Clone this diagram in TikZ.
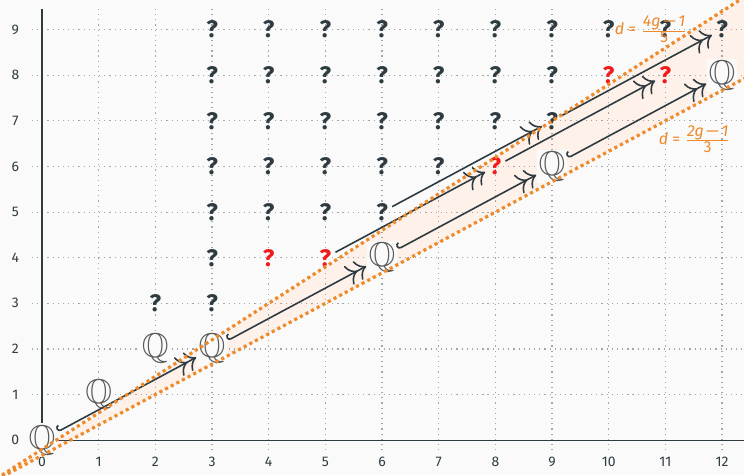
\documentclass[tikz,border=0pt]{standalone}
\usepackage{amssymb}
\usepackage[no-math]{fontspec}
\setmainfont{Fira Sans}
\usetikzlibrary{arrows.meta}

\definecolor{fondo}{HTML}{FAFAFA}
\definecolor{ardesia}{HTML}{2E3B40}
\definecolor{arancio}{HTML}{EE8A2A}
\definecolor{fascia}{HTML}{FDF1EA}
\definecolor{rosso}{HTML}{F21B1B}
\definecolor{grigioQ}{HTML}{5A5A5A}

\tikzset{
  griglia/.style={gray!70, dotted, line width=0.6pt},
  tacca/.style={text=ardesia, font=\scriptsize},
  razionale/.style={inner sep=1pt, fill=fondo, text=grigioQ, font=\LARGE},
  incognita/.style={inner sep=2pt, text=ardesia, font=\large\bfseries},
  falsa/.style={incognita, text=rosso},
  salto/.style={ardesia, line width=0.8pt, {Hooks[right]}-{To[scale=1.5] To[scale=1.5]}},
  salto libero/.style={ardesia, line width=0.8pt, -{To[scale=1.5] To[scale=1.5]}},
  retta/.style={arancio, line width=1.6pt, dash pattern=on 1.6pt off 1.6pt},
  etichetta retta/.style={text=arancio, font=\footnotesize}
}

\begin{document}
\begin{tikzpicture}[x=1cm, y=0.805cm]
    % Sfondo e cornice
    \fill[fondo] (-0.741,-0.768) rectangle (12.388,9.65);
    \useasboundingbox (-0.741,-0.768) rectangle (12.388,9.65);

    % Fascia fra le due rette
    \fill[fascia] (-0.8,{(4*(-0.8)-1)/5}) -- (12.5,{(4*12.5-1)/5})
        -- (12.5,{(2*12.5-1)/3}) -- (-0.8,{(2*(-0.8)-1)/3}) -- cycle;

    % Griglia
    \foreach \x in {1,...,12}
        \draw[griglia] (\x,-0.22) -- (\x,9.47);
    \foreach \y in {1,...,9}
        \draw[griglia] (-0.18,\y) -- (12.4,\y);

    % Assi
    \draw[ardesia, semithick] (0,0) -- (12.4,0);
    \draw[ardesia, semithick] (0,0) -- (0,9.45);

    % Etichette degli assi
    \foreach \x in {0,...,12}
        \node[tacca] (tx\x) at (\x,-0.48) {\x};
    \foreach \y in {0,...,9}
        \node[tacca] (ty\y) at (-0.47,\y) {\y};

    % Punti razionali
    \foreach \x/\y in {0/0, 1/1, 2/2, 3/2, 6/4, 9/6, 12/8}
        \node[razionale] (q-\x-\y) at (\x,\y) {$\mathbb{Q}$};

    % Punti incogniti
    \foreach \x/\y in {2/3, 3/3, 3/4, 3/5, 3/6, 3/7, 3/8, 3/9,
                       4/5, 4/6, 4/7, 4/8, 4/9, 5/5, 5/6, 5/7, 5/8, 5/9,
                       6/5, 6/6, 6/7, 6/8, 6/9, 7/6, 7/7, 7/8, 7/9,
                       8/7, 8/8, 8/9, 9/7, 9/8, 9/9, 10/9, 11/9, 12/9}
        \node[incognita] (i-\x-\y) at (\x,\y) {?};
    \foreach \x/\y in {4/4, 5/4, 8/6, 10/8, 11/8}
        \node[falsa] (i-\x-\y) at (\x,\y) {?};

    % Salti (3,2)
    \draw[salto] (q-0-0) -- (q-3-2);
    \draw[salto] (q-3-2) -- (q-6-4);
    \draw[salto] (q-6-4) -- (q-9-6);
    \draw[salto] (q-9-6) -- (q-12-8);
    \draw[salto libero] (i-5-4) -- (i-8-6);
    \draw[salto libero] (i-6-5) -- (i-9-7);
    \draw[salto libero] (i-8-6) -- (i-11-8);
    \draw[salto libero] (i-9-7) -- (i-12-9);

    % Rette limite
    \draw[retta] (-0.8,{(4*(-0.8)-1)/5}) -- (12.5,{(4*12.5-1)/5});
    \draw[retta] (-0.8,{(2*(-0.8)-1)/3}) -- (12.5,{(2*12.5-1)/3});

    \node[etichetta retta] (d-sup) at (10.75,9.01)
        {\itshape d\upshape\ = $\frac{\mbox{\itshape 4g\,—\,1}}{\mbox{5}}$};
    \node[etichetta retta] (d-inf) at (11.52,6.6)
        {\itshape d\upshape\ = $\frac{\mbox{\itshape 2g\,—\,1}}{\mbox{3}}$};

\end{tikzpicture}
\end{document}
